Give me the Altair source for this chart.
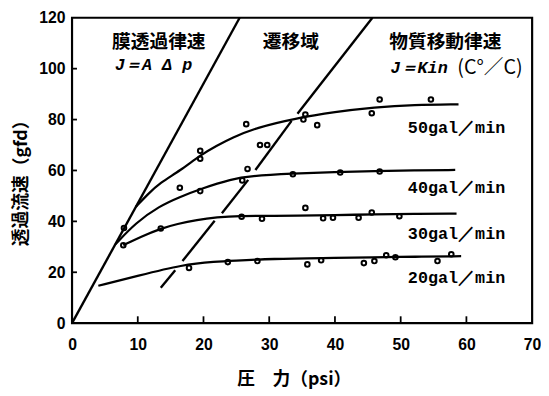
import altair as alt
import pandas as pd

# ---- data ----
lineA_x = [0.0, 25.5]
lineA_y = [0.0, 120.0]

# transition boundary (broken line), segment id / x / y
lineB_seg = [1, 1, 2, 2, 3, 3, 4, 4, 5, 5]
lineB_x = [13.5, 15.7, 16.8, 21.7, 22.8, 26.8, 27.9, 33.4, 34.3, 45.7]
lineB_y = [13.9, 20.8, 24.4, 40.2, 43.2, 56.3, 60.2, 79.5, 82.3, 120.0]

c50_x = [9.7, 11.5, 13.3, 16.5, 19.5, 22.0, 24.3, 28.0, 34.0, 40.0, 46.0, 52.0, 58.8]
c50_y = [45.7, 50.6, 55.0, 60.0, 66.0, 69.7, 72.8, 76.8, 80.5, 83.0, 84.8, 85.8, 86.0]
c40_x = [6.6, 9.7, 13.3, 16.3, 19.8, 24.3, 27.0, 33.6, 40.0, 46.0, 52.0, 58.3]
c40_y = [31.0, 39.5, 46.0, 49.5, 53.0, 56.6, 57.8, 58.8, 59.4, 59.8, 60.0, 60.2]
c30_x = [7.8, 10.5, 13.5, 16.0, 19.0, 22.0, 25.5, 30.0, 34.0, 40.0, 46.0, 52.0, 58.5]
c30_y = [30.6, 34.0, 37.2, 39.0, 40.6, 41.6, 42.2, 42.2, 42.2, 42.4, 42.8, 43.0, 43.0]
c20_x = [4.0, 10.0, 16.8, 22.0, 24.3, 30.6, 38.0, 46.0, 52.0, 59.2]
c20_y = [14.7, 18.6, 23.0, 24.2, 24.5, 25.3, 25.6, 25.9, 26.1, 26.3]

p50_x = [7.9, 19.5, 19.5, 26.5, 28.6, 29.7, 35.2, 35.5, 37.3, 45.6, 46.8, 54.6]
p50_y = [37.4, 67.7, 64.6, 78.2, 70.0, 70.0, 80.0, 82.0, 77.8, 82.5, 87.9, 87.9]
p40_x = [16.4, 19.5, 25.9, 26.7, 33.6, 40.8, 46.8]
p40_y = [53.2, 51.9, 56.1, 60.6, 58.5, 59.2, 59.6]
p30_x = [7.8, 13.5, 25.8, 28.9, 35.5, 38.2, 39.7, 43.6, 45.6, 49.8]
p30_y = [30.6, 37.2, 41.8, 41.0, 45.3, 41.2, 41.4, 41.4, 43.5, 42.0]
p20_x = [17.8, 23.7, 28.2, 35.8, 37.9, 44.4, 46.0, 47.8, 49.2, 55.6, 57.7]
p20_y = [21.7, 24.0, 24.4, 23.1, 24.7, 23.6, 24.4, 26.7, 25.9, 24.4, 27.1]

series_labels = ["50gal／min", "40gal／min", "30gal／min", "20gal／min"]
label_x = [58.5, 58.5, 58.5, 58.5]
label_y = [76.7, 53.0, 35.0, 17.6]

region_text = ["膜透過律速", "遷移域", "物質移動律速"]
region_x = [13.2, 33.3, 56.8]
region_y = [110.3, 110.3, 110.3]

eq_text = ["J＝A Δ p", "J＝Kin"]
eq_x = [12.4, 52.8]
eq_y = [101.4, 100.3]
ratio_text = ["(C°／C)"]
ratio_x = [63.6]
ratio_y = [100.3]

x_ticks = [0, 10, 20, 30, 40, 50, 60, 70]
y_ticks = [0, 20, 40, 60, 80, 100, 120]

# ---- tables ----
xs = alt.Scale(domain=[0, 70], nice=False, zero=False)
ys = alt.Scale(domain=[0, 120], nice=False, zero=False)

dfA = pd.DataFrame({"x": lineA_x, "y": lineA_y})
dfB = pd.DataFrame({"seg": lineB_seg, "x": lineB_x, "y": lineB_y})
curves = []
for name, cx, cy in [("50", c50_x, c50_y), ("40", c40_x, c40_y), ("30", c30_x, c30_y), ("20", c20_x, c20_y)]:
    for a, b in zip(cx, cy):
        curves.append({"s": name, "x": a, "y": b})
dfC = pd.DataFrame(curves)
pts = []
for name, px, py in [("50", p50_x, p50_y), ("40", p40_x, p40_y), ("30", p30_x, p30_y), ("20", p20_x, p20_y)]:
    for a, b in zip(px, py):
        pts.append({"s": name, "x": a, "y": b})
dfP = pd.DataFrame(pts)

xt = [v for v in x_ticks if 0 < v < 70]
yt = [v for v in y_ticks if 0 < v < 120]
dfXT = pd.DataFrame({"x": xt, "y0": [0] * len(xt), "y1": [2.7] * len(xt)})
dfYT = pd.DataFrame({"y": yt, "x0": [0] * len(yt), "x1": [0.75] * len(yt)})

x_axis = alt.Axis(values=x_ticks, labelFlush=False, ticks=False, tickSize=0, domain=False, grid=False,
                  labelFont="Liberation Sans", labelFontWeight="bold", labelFontSize=16, labelPadding=14,
                  labelColor="black", title="圧　力（psi）", titleFont="Noto Sans CJK JP",
                  titleFontSize=18, titleFontWeight="bold", titleColor="black",
                  titleX=225, titleY=57, titleBaseline="middle", titleAlign="center", titleAngle=0)
y_axis = alt.Axis(values=y_ticks, labelFlush=False, ticks=False, tickSize=0, domain=False, grid=False,
                  labelFont="Liberation Sans", labelFontWeight="bold", labelFontSize=16, labelPadding=7,
                  labelColor="black", title="透過流速（gfd）", titleFont="Noto Sans CJK JP",
                  titleFontSize=18, titleFontWeight="bold", titleColor="black",
                  titleX=-51, titleY=163, titleBaseline="middle", titleAlign="center", titleAngle=270)

lineA = alt.Chart(dfA).mark_line(color="black", strokeWidth=2.4).encode(
    x=alt.X("x:Q", scale=xs, axis=x_axis), y=alt.Y("y:Q", scale=ys, axis=y_axis))
lineB = alt.Chart(dfB).mark_line(color="black", strokeWidth=2.4).encode(
    x=alt.X("x:Q", scale=xs), y=alt.Y("y:Q", scale=ys), detail="seg:N")
curv = alt.Chart(dfC).mark_line(color="black", strokeWidth=2.3, interpolate="basis").encode(
    x=alt.X("x:Q", scale=xs), y=alt.Y("y:Q", scale=ys), detail="s:N")
points = alt.Chart(dfP).mark_point(shape="circle", filled=False, color="black", size=22, strokeWidth=2.0,
                                   opacity=1).encode(
    x=alt.X("x:Q", scale=xs), y=alt.Y("y:Q", scale=ys))
xticks = alt.Chart(dfXT).mark_rule(color="black", strokeWidth=1.8).encode(
    x=alt.X("x:Q", scale=xs), y=alt.Y("y0:Q", scale=ys), y2="y1:Q")
yticks = alt.Chart(dfYT).mark_rule(color="black", strokeWidth=1.8).encode(
    y=alt.Y("y:Q", scale=ys), x=alt.X("x0:Q", scale=xs), x2="x1:Q")

dfL = pd.DataFrame({"t": series_labels, "x": label_x, "y": label_y})
labels = alt.Chart(dfL).mark_text(font="Liberation Mono", fontWeight="bold", fontSize=17, color="black",
                                  align="center", baseline="middle").encode(
    x=alt.X("x:Q", scale=xs), y=alt.Y("y:Q", scale=ys), text="t:N")
dfR = pd.DataFrame({"t": region_text, "x": region_x, "y": region_y})
regions = alt.Chart(dfR).mark_text(font="Noto Sans CJK JP", fontWeight="bold", fontSize=19, color="black",
                                   align="center", baseline="middle").encode(
    x=alt.X("x:Q", scale=xs), y=alt.Y("y:Q", scale=ys), text="t:N")
dfE = pd.DataFrame({"t": eq_text, "x": eq_x, "y": eq_y})
eqs = alt.Chart(dfE).mark_text(font="Liberation Mono", fontWeight="bold", fontStyle="italic", fontSize=17,
                               color="black", align="center", baseline="middle").encode(
    x=alt.X("x:Q", scale=xs), y=alt.Y("y:Q", scale=ys), text="t:N")
dfQ = pd.DataFrame({"t": ratio_text, "x": ratio_x, "y": ratio_y})
ratio = alt.Chart(dfQ).mark_text(font="Noto Sans CJK JP", fontSize=20, color="black",
                                 align="center", baseline="middle").encode(
    x=alt.X("x:Q", scale=xs), y=alt.Y("y:Q", scale=ys), text="t:N")

chart = alt.layer(lineA, lineB, curv, points, xticks, yticks, labels, regions, eqs, ratio).properties(
    width=467, height=310,
    autosize=alt.AutoSizeParams(type="none"),
    padding={"left": 65, "top": 7, "right": 9, "bottom": 70},
    background="white",
).configure_view(stroke="black", strokeWidth=2.2)

chart.save("out.html", embed_options={"renderer": "svg", "actions": False})
